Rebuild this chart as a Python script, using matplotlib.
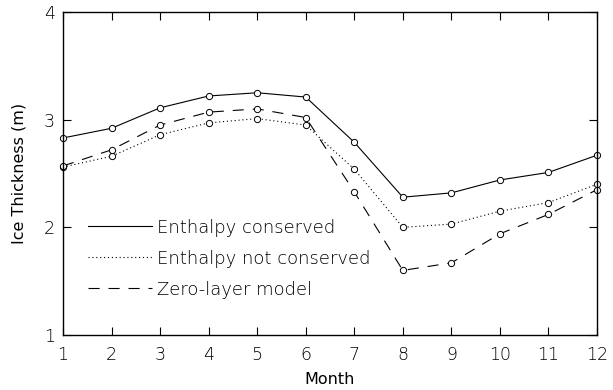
import matplotlib
matplotlib.use("Agg")
import matplotlib.pyplot as plt
from matplotlib.lines import Line2D

months = [1, 2, 3, 4, 5, 6, 7, 8, 9, 10, 11, 12]
enthalpy_conserved = [2.83, 2.92, 3.11, 3.22, 3.25, 3.21, 2.79, 2.28, 2.32, 2.44, 2.51, 2.67]
enthalpy_not_conserved = [2.56, 2.66, 2.86, 2.97, 3.01, 2.95, 2.54, 2.00, 2.03, 2.15, 2.23, 2.40]
zero_layer = [2.57, 2.72, 2.95, 3.07, 3.10, 3.02, 2.33, 1.60, 1.67, 1.94, 2.12, 2.35]
labels = ["Enthalpy conserved", "Enthalpy not conserved", "Zero-layer model"]

plt.rcParams["font.family"] = ["DejaVu Sans"]
plt.rcParams["font.weight"] = "light"

fig = plt.figure(figsize=(6.13, 3.9), dpi=100)
ax = fig.add_axes([63 / 613, 55 / 390, 534 / 613, 323 / 390])

styles = ["-", (0, (1, 2.5)), (0, (10, 8))]
series = [enthalpy_conserved, enthalpy_not_conserved, zero_layer]
for vals, ls in zip(series, styles):
    ax.plot(months, vals, color="black", lw=0.8, linestyle=ls,
            marker="o", ms=4.5, mfc="white", mec="black", mew=0.7, clip_on=False)

ax.set_xlim(1, 12)
ax.set_ylim(1, 4)
ax.set_xticks(months)
ax.set_yticks([1, 2, 3, 4])
ax.tick_params(direction="in", length=6, width=0.8, top=True, right=True,
               labelsize=12.5, pad=8, colors="black")
ax.tick_params(axis="y", pad=6)
for sp in ax.spines.values():
    sp.set_linewidth(1.0)

ax.set_xlabel("Month", fontsize=11.5, labelpad=6)
ax.set_ylabel("Ice Thickness (m)", fontsize=11.5, labelpad=12)

handles = [Line2D([], [], color="black", lw=0.8, linestyle=ls) for ls in styles]
ax.legend(handles, labels, loc="upper left", bbox_to_anchor=(0.034, 0.383),
          frameon=False, fontsize=13, handlelength=3.5, handletextpad=0.3,
          labelspacing=0.72, borderaxespad=0)

fig.savefig("out.png", dpi=100)
